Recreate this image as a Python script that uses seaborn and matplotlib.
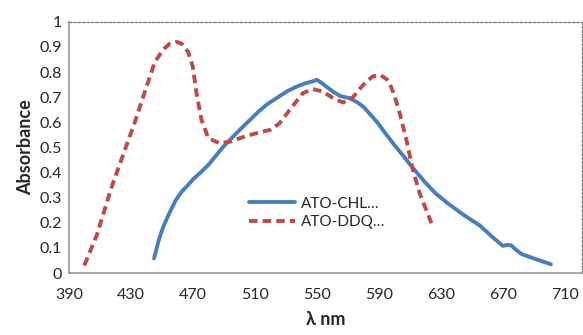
import pandas as pd
import seaborn as sns
import matplotlib.pyplot as plt

# wavelength (nm) / absorbance
chl_wl = [445, 448, 451, 455, 459, 463, 466, 470, 475, 480, 490, 500, 505, 512, 518,
          525, 531, 537, 543, 547, 550, 553, 557, 561, 565, 571, 576, 580, 585, 589,
          595, 600, 606, 612, 620, 627, 634, 645, 655, 663, 670, 673, 675.5, 678, 682,
          690, 701]
chl_abs = [0.058, 0.13, 0.185, 0.24, 0.29, 0.325, 0.344, 0.372, 0.40, 0.43, 0.505, 0.568, 0.598, 0.64, 0.672,
           0.70, 0.724, 0.742, 0.756, 0.762, 0.769, 0.757, 0.738, 0.72, 0.705, 0.696, 0.68, 0.662, 0.628, 0.60,
           0.55, 0.51, 0.465, 0.418, 0.36, 0.315, 0.28, 0.23, 0.19, 0.145, 0.108, 0.112, 0.11, 0.095, 0.076,
           0.058, 0.035]

ddq_wl = [400, 408, 417.5, 425, 432.6, 439, 445.5, 451, 455, 459.5, 463, 467, 470, 472.4, 475.6,
          480, 487, 494, 504.6, 512, 520, 526, 532.5, 541, 547.6, 554, 560.5, 567, 573.4, 578,
          582, 586, 590.6, 595, 597, 600.3, 603.5, 607.8, 612, 616.4, 624]
ddq_abs = [0.03, 0.15, 0.34, 0.47, 0.60, 0.72, 0.84, 0.89, 0.912, 0.92, 0.912, 0.88, 0.822, 0.716, 0.61,
           0.537, 0.517, 0.523, 0.546, 0.558, 0.57, 0.596, 0.649, 0.716, 0.732, 0.722, 0.696, 0.679, 0.70, 0.735,
           0.762, 0.782, 0.789, 0.772, 0.756, 0.702, 0.636, 0.53, 0.41, 0.317, 0.198]

series_names = ["ATO-CHL\u2026", "ATO-DDQ\u2026"]

df = pd.concat([
    pd.DataFrame({"wl": chl_wl, "abs": chl_abs, "series": series_names[0]}),
    pd.DataFrame({"wl": ddq_wl, "abs": ddq_abs, "series": series_names[1]}),
])

sns.set_style("white")
plt.rcParams["font.family"] = ["Lato", "DejaVu Sans"]

fig, ax = plt.subplots(figsize=(5.83, 3.35), dpi=100)
sns.lineplot(data=df, x="wl", y="abs", hue="series", style="series",
             palette=["#4a7ebb", "#be4b48"], dashes=[(None, None), (2.2, 1.3)],
             linewidth=2.8, sort=False, ax=ax)

ax.set_xlim(390, 721)
ax.set_ylim(0, 1)
ax.set_xticks(range(390, 711, 40))
ax.set_yticks([i / 10 for i in range(11)])
ax.set_yticklabels(["0", "0.1", "0.2", "0.3", "0.4", "0.5", "0.6", "0.7", "0.8", "0.9", "1"])
ax.tick_params(axis="x", direction="in", length=5, color="#888888", labelsize=11.5, pad=11)
ax.tick_params(axis="y", length=0, labelsize=11.5, pad=5)
ax.set_xlabel("\u03bb nm", fontsize=13, fontweight="bold", labelpad=6)
ax.set_ylabel("Absorbance", fontsize=13, fontweight="bold", labelpad=4)

for side in ["top", "right"]:
    ax.spines[side].set_linestyle((0, (2, 1.5)))
    ax.spines[side].set_color("#777777")
    ax.spines[side].set_linewidth(0.9)
for side in ["left", "bottom"]:
    ax.spines[side].set_color("#999999")
    ax.spines[side].set_linewidth(1.2)

leg = ax.legend(loc="lower left", bbox_to_anchor=(0.325, 0.12), frameon=False,
                fontsize=11, handlelength=3.0, handletextpad=0.35, labelspacing=0.3)

plt.subplots_adjust(left=0.118, right=0.998, top=0.935, bottom=0.185)
plt.savefig("out.png")
